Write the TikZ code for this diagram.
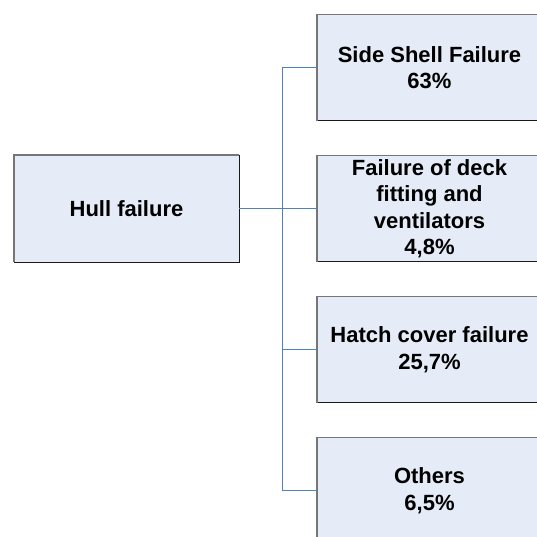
\documentclass[tikz,border=0pt]{standalone}
\usepackage{fontspec}
\setmainfont{Liberation Sans}
\definecolor{boxfill}{RGB}{229,236,247}
\definecolor{boxlight}{RGB}{118,118,118}
\definecolor{boxdark}{RGB}{25,25,25}
\definecolor{conncol}{RGB}{79,129,189}
\tikzset{
  box/.style={rectangle, fill=boxfill, draw=none, minimum width=225pt, minimum height=106pt,
    inner sep=0pt, align=center, font=\bfseries\fontsize{22}{26.5}\selectfont},
  edgelight/.style={draw=boxlight, line width=1.4pt},
  edgedark/.style={draw=boxdark, line width=1.1pt},
  conn/.style={draw=conncol, line width=1pt}
}
\begin{document}
\begin{tikzpicture}[x=1pt,y=-1pt]
\useasboundingbox (0,0) rectangle (537,536);
\clip (0,0) rectangle (537,536);
\fill[white] (0,0) rectangle (537,536);
\node[box, minimum height=107pt] (hull) at (126.5,208.5) {Hull failure};
\node[box] (b1) at (429.5,67.5) {Side Shell Failure\\63\%};
\node[box] (b2) at (429.5,208.5) {Failure of deck\\fitting and\\ventilators\\4,8\%};
\node[box] (b3) at (429.5,349.5) {Hatch cover failure\\25,7\%};
\node[box] (b4) at (429.5,490.5) {Others\\6,5\%};
\foreach \n in {hull,b1,b2,b3,b4}{
  \draw[edgedark] (\n.north east) -- (\n.south east) -- (\n.south west);
  \draw[edgelight] (\n.south west) -- (\n.north west) -- (\n.north east);
}
\coordinate (bus) at (282,0);
\draw[conn] (b1.west) -- (b1.west -| bus) -- (b4.west -| bus) -- (b4.west);
\draw[conn] (hull.east) -- (b2.west);
\draw[conn] (b3.west -| bus) -- (b3.west);
\end{tikzpicture}
\end{document}
